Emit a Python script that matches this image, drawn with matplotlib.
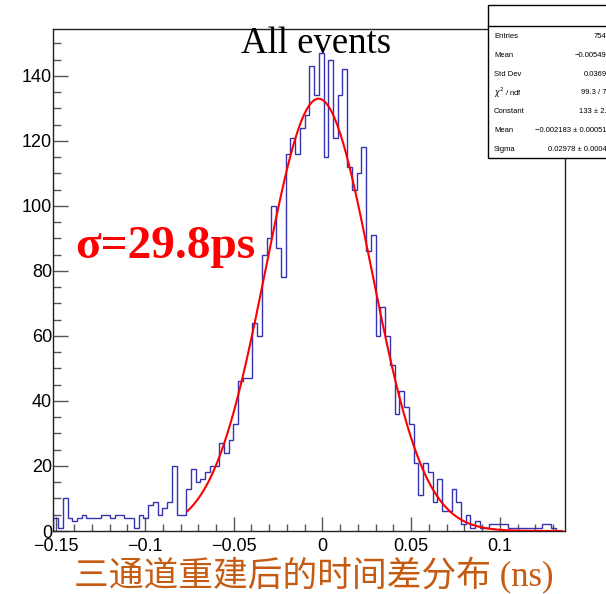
import numpy as np
import matplotlib
matplotlib.use("Agg")
import matplotlib.pyplot as plt
from matplotlib.patches import Rectangle
from matplotlib.ticker import MultipleLocator

# Time-difference histogram (ns), 108 equal bins over the axis range
x_min, x_max = -0.1517, 0.1369
counts = [
    4, 1, 10, 4, 3, 4, 5, 4, 4, 4,
    5, 5, 4, 5, 5, 4, 4, 1, 5, 4,
    8, 9, 5, 7, 9, 20, 5, 5, 13, 19,
    15, 16, 18, 20, 20, 27, 24, 28, 33, 46,
    47, 47, 64, 60, 85, 90, 100, 87, 78, 116,
    121, 116, 124, 128, 143, 134, 147, 115, 145, 121,
    134, 142, 112, 105, 110, 118, 86, 91, 60, 69,
    60, 51, 36, 43, 38, 33, 21, 11, 21, 18,
    9, 16, 6, 6, 13, 9, 2, 5, 1, 3,
    1, 1, 2, 2, 2, 2, 1, 1, 1, 1,
    1, 1, 1, 2, 2, 1, 0, 0,
]

# Gaussian fit result
fit_const, fit_mean, fit_sigma = 133.0, -0.002183, 0.02978
fit_range = (-0.076, 0.135)

# Statistics box rows
stat_labels = ["Entries", "Mean", "Std Dev", r"$\chi^{2}$ / ndf", "Constant", "Mean", "Sigma"]
stat_values = ["7547", "\u22120.005494", "0.03694", "99.3 / 77", "133 \u00b1 2.0",
               "\u22120.002183 \u00b1 0.000516", "0.02978 \u00b1 0.00043"]

title_text = "All events"
sigma_text = "\u03c3=29.8ps"
xlabel_text = "三通道重建后的时间差分布 (ns)"

W, H = 606, 594
fig = plt.figure(figsize=(W / 100, H / 100), dpi=100)
ax_l, ax_r, ax_t, ax_b = 53.3, 565.3, 29.3, 531.0
ax = fig.add_axes([ax_l / W, 1 - ax_b / H, (ax_r - ax_l) / W, (ax_b - ax_t) / H])

edges = np.linspace(x_min, x_max, len(counts) + 1)
ax.stairs(counts, edges, color="#3434b0", lw=1.0, baseline=0, zorder=2)

xf = np.linspace(fit_range[0], fit_range[1], 400)
yf = fit_const * np.exp(-0.5 * ((xf - fit_mean) / fit_sigma) ** 2)
ax.plot(xf, yf, color="red", lw=1.5, zorder=3)

ax.set_xlim(x_min, x_max)
ax.set_ylim(0, max(counts) * 1.05)

tick_font = {"family": "Liberation Sans", "size": 13}
ax.xaxis.set_minor_locator(MultipleLocator(0.01))
ax.yaxis.set_minor_locator(MultipleLocator(5))
ax.set_xticks(np.arange(-0.15, 0.1001, 0.05))
ax.set_xticklabels(["\u22120.15", "\u22120.1", "\u22120.05", "0", "0.05", "0.1"], **tick_font)
ax.set_yticks(np.arange(0, 141, 20))
ax.set_yticklabels([str(v) for v in range(0, 141, 20)], **tick_font)
ax.tick_params(axis="x", which="major", direction="in", length=10, width=1, color="#555555", pad=5)
ax.tick_params(axis="x", which="minor", direction="in", length=5, width=1, color="#555555")
ax.tick_params(axis="y", which="major", direction="in", length=11, width=1, color="#555555", pad=1)
ax.tick_params(axis="y", which="minor", direction="in", length=5.5, width=1, color="#555555")
for s in ax.spines.values():
    s.set_linewidth(1.0)
    s.set_color("#222222")

# Title and annotation
fig.text(316 / W, 1 - 53 / H, title_text, ha="center", va="baseline",
         family="Liberation Serif", fontsize=26.5, color="black", zorder=5)
fig.text(75 / W, 1 - 258 / H, sigma_text, ha="left", va="baseline",
         family="Liberation Serif", fontweight="bold", fontsize=34, color="red")

# x-axis caption
fig.text(314 / W, 1 - 575.5 / H, xlabel_text, ha="center", va="center",
         family=["Liberation Serif", "Noto Sans CJK SC"], fontsize=25, color="#C55A11")

# Statistics box (runs off the right edge of the canvas)
bx_l, bx_t, bx_r, bx_b = 488.3, 4.5, 618, 158
fig.patches.append(Rectangle((bx_l / W, 1 - bx_b / H), (bx_r - bx_l) / W, (bx_b - bx_t) / H,
                             transform=fig.transFigure, facecolor="white",
                             edgecolor="black", lw=1.0, zorder=6))
fig.lines.append(plt.Line2D([bx_l / W, bx_r / W], [1 - 25.7 / H, 1 - 25.7 / H],
                            transform=fig.transFigure, color="black", lw=1.0, zorder=7))
row_y0, row_dy = 36.5, 18.8
for i, (lab, val) in enumerate(zip(stat_labels, stat_values)):
    yy = 1 - (row_y0 + i * row_dy) / H
    fig.text(494 / W, yy, lab, ha="left", va="center", family="Liberation Sans",
             fontsize=5.5, color="black", zorder=8)
    fig.text(611 / W, yy, val, ha="right", va="center", family="Liberation Sans",
             fontsize=5.5, color="black", zorder=8)

fig.savefig("out.png", dpi=100)
